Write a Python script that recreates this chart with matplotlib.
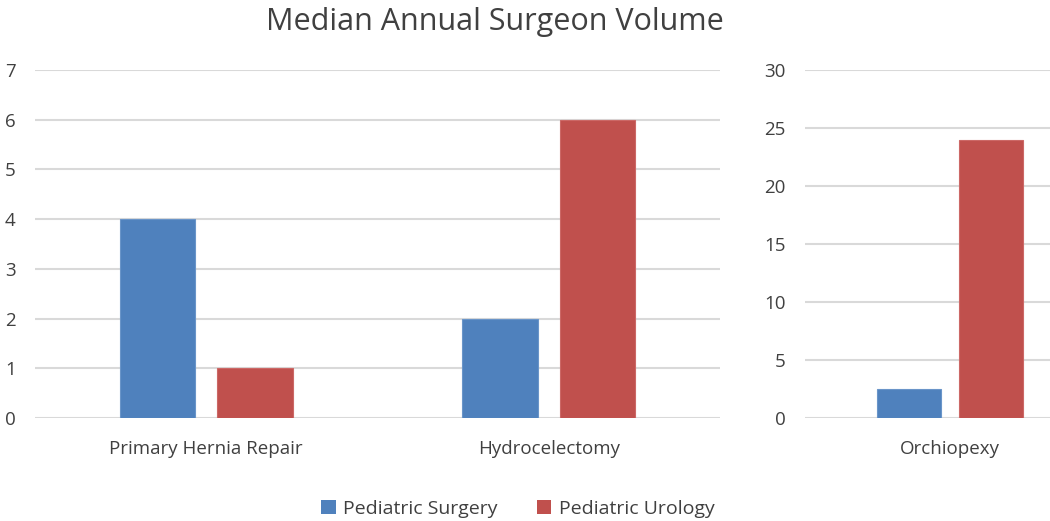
import matplotlib
matplotlib.use("Agg")
import matplotlib.pyplot as plt
import numpy as np
from matplotlib.patches import Patch

plt.rcParams['font.family'] = ['Open Sans', 'DejaVu Sans']

left_cats = ['Primary Hernia Repair', 'Hydrocelectomy']
left_surgery = [4, 2]
left_urology = [1, 6]

right_cats = ['Orchiopexy']
right_surgery = [2.5]
right_urology = [24]

blue = '#4F81BD'
red = '#C0504D'
text_col = '#404040'
grid_col = '#D9D9D9'

W, H = 1050, 521
fig = plt.figure(figsize=(10.5, 5.21), dpi=100)

bottom = 1 - 418 / H
height = (418 - 70) / H
ax1 = fig.add_axes([35 / W, bottom, (720 - 35) / W, height])
ax2 = fig.add_axes([805 / W, bottom, (1050 - 805) / W, height])

width = 0.22
off = 0.142


def style(ax, ymax, step, cats):
    ax.set_ylim(0, ymax)
    ax.set_yticks(np.arange(0, ymax + 0.1, step))
    ax.yaxis.grid(True, color=grid_col, linewidth=1.5)
    ax.set_axisbelow(True)
    for s in ax.spines.values():
        s.set_visible(False)
    ax.tick_params(axis='y', length=0, pad=14, labelsize=13.5, labelcolor=text_col)
    ax.tick_params(axis='x', length=0, pad=16, labelsize=13.5, labelcolor=text_col)
    ax.set_xticks(np.arange(len(cats)))
    ax.set_xticklabels(cats)


x = np.arange(len(left_cats))
ax1.bar(x - off, left_surgery, width, color=blue, edgecolor='#6A95C9', linewidth=0.8)
ax1.bar(x + off, left_urology, width, color=red, edgecolor='#CC6866', linewidth=0.8)
ax1.set_xlim(-0.5, 1.5)
style(ax1, 7, 1, left_cats)

x2 = np.arange(len(right_cats))
ax2.bar(x2 - off, right_surgery, width, color=blue, edgecolor='#6A95C9', linewidth=0.8)
ax2.bar(x2 + off, right_urology, width, color=red, edgecolor='#CC6866', linewidth=0.8)
ax2.set_xlim(-0.5, -0.5 + 245 / 290)
style(ax2, 30, 5, right_cats)

fig.text(495 / W, 1 - 22 / H, 'Median Annual Surgeon Volume', ha='center', va='center',
         fontsize=22, color=text_col)

handles = [Patch(facecolor=blue), Patch(facecolor=red)]
fig.legend(handles, ['Pediatric Surgery', 'Pediatric Urology'], loc='center',
           bbox_to_anchor=(518 / W, 1 - 509 / H), ncol=2, frameon=False,
           fontsize=14, labelcolor=text_col, handlelength=0.75, handleheight=0.75,
           handletextpad=0.4, columnspacing=2.0)

fig.savefig('out.png', dpi=100)
